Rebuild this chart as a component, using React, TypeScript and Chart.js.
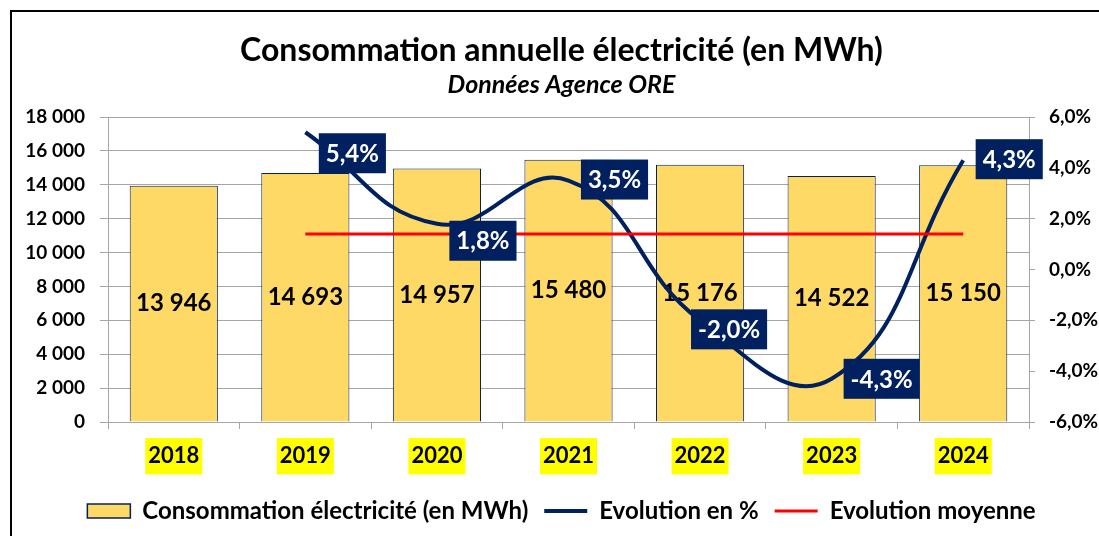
import React, { useEffect, useRef } from 'react';
import { Chart, registerables } from 'chart.js';

Chart.register(...registerables);

// ---- Data ----
const years = ['2018', '2019', '2020', '2021', '2022', '2023', '2024'];
const consumption = [13946, 14693, 14957, 15480, 15176, 14522, 15150];
const evolution: (number | null)[] = [null, 5.4, 1.8, 3.5, -2.0, -4.3, 4.3];
const averageEvolution: (number | null)[] = [null, 1.4, 1.4, 1.4, 1.4, 1.4, 1.4];
const leftAxis = { min: 0, max: 18000, step: 2000 };
const rightAxis = { min: -6, max: 6, step: 2 };
const titleText = 'Consommation annuelle électricité (en MWh)';
const subtitleText = 'Données Agence ORE';
const seriesNames = ['Consommation électricité (en MWh)', 'Evolution en %', 'Evolution moyenne'];

// ---- Styles ----
const FONT = 'Lato';
const NAVY = '#002060';
const BAR_FILL = '#FFD966';
const RED = '#FF0000';
const GRID = '#A6A6A6';
// label box offsets relative to their point (styling only)
const labelDx = [0, 47, 46, 46, 29, 50, 46];
const labelDy = [0, 21, 17, -1, 9, 0, -1];

const fmtThousands = (v: number) => String(Math.round(v)).replace(/\B(?=(\d{3})+(?!\d))/g, ' ');
const fmtPct = (v: number) => v.toFixed(1).replace('.', ',') + '%';

const barLabels = {
  id: 'barLabels',
  afterDatasetDraw(chart: any, args: any) {
    if (args.meta.type !== 'bar') return;
    const ctx = chart.ctx;
    ctx.save();
    ctx.font = `bold 24px ${FONT}`;
    ctx.fillStyle = '#000';
    ctx.textAlign = 'center';
    ctx.textBaseline = 'middle';
    args.meta.data.forEach((el: any, i: number) => {
      const p = el.getProps(['x', 'y', 'base'], true);
      ctx.fillText(fmtThousands(consumption[i]), p.x, (p.y + p.base) / 2);
    });
    ctx.restore();
  },
};

const lineLabels = {
  id: 'lineLabels',
  afterDatasetsDraw(chart: any) {
    const meta = chart.getDatasetMeta(1);
    const ctx = chart.ctx;
    ctx.save();
    ctx.font = `bold 24px ${FONT}`;
    ctx.textAlign = 'center';
    ctx.textBaseline = 'middle';
    meta.data.forEach((el: any, i: number) => {
      const v = evolution[i];
      if (v === null || v === undefined) return;
      const text = fmtPct(v);
      const w = ctx.measureText(text).width + 14;
      const h = 40;
      const cx = el.x + labelDx[i];
      const cy = el.y + labelDy[i];
      ctx.fillStyle = NAVY;
      ctx.fillRect(cx - w / 2, cy - h / 2, w, h);
      ctx.fillStyle = '#FFFFFF';
      ctx.fillText(text, cx, cy + 1);
    });
    ctx.restore();
  },
};

export default function App() {
  const ref = useRef<HTMLCanvasElement | null>(null);

  useEffect(() => {
    if (!ref.current) return;
    const chart = new Chart(ref.current, {
      type: 'bar',
      data: {
        labels: years,
        datasets: [
          {
            type: 'bar',
            label: seriesNames[0],
            data: consumption,
            backgroundColor: BAR_FILL,
            borderColor: NAVY,
            borderWidth: 1,
            barPercentage: 0.67,
            categoryPercentage: 1,
            yAxisID: 'y',
            order: 3,
          } as any,
          {
            type: 'line',
            label: seriesNames[1],
            data: evolution,
            borderColor: NAVY,
            backgroundColor: NAVY,
            borderWidth: 4,
            pointRadius: 0,
            tension: 0.45,
            yAxisID: 'y1',
            order: 2,
          } as any,
          {
            type: 'line',
            label: seriesNames[2],
            data: averageEvolution,
            borderColor: RED,
            backgroundColor: RED,
            borderWidth: 3,
            pointRadius: 0,
            tension: 0,
            yAxisID: 'y1',
            order: 1,
          } as any,
        ],
      },
      options: {
        responsive: false,
        animation: false,
        devicePixelRatio: 1,
        layout: { padding: { left: 24, right: 0, top: 0, bottom: 3 } },
        plugins: {
          title: {
            display: true,
            text: titleText,
            color: '#000',
            font: { family: FONT, size: 32, weight: 'bold' },
            padding: { top: 31, bottom: 0 },
          },
          subtitle: {
            display: true,
            text: subtitleText,
            color: '#000',
            font: { family: FONT, size: 25, weight: 'bold', style: 'italic' },
            padding: { top: 1, bottom: 16.6 },
          },
          legend: {
            display: true,
            position: 'bottom',
            labels: {
              usePointStyle: true,
              pointStyleWidth: 43,
              boxHeight: 14,
              padding: 16,
              color: '#000',
              font: { family: FONT, size: 24, weight: 'bold' },
              generateLabels: (c: any) =>
                c.data.datasets.map((ds: any, i: number) => ({
                  text: ds.label,
                  fillStyle: ds.backgroundColor,
                  strokeStyle: ds.borderColor,
                  lineWidth: i === 0 ? 1.5 : ds.borderWidth,
                  pointStyle: i === 0 ? 'rect' : 'line',
                  hidden: false,
                  datasetIndex: i,
                  fontColor: '#000',
                })),
            },
          },
          tooltip: { enabled: false },
        },
        scales: {
          x: {
            offset: true,
            grid: { display: true, drawOnChartArea: false, offset: true, tickLength: 7, color: GRID },
            border: { display: true, color: GRID },
            ticks: {
              color: '#000',
              font: { family: FONT, size: 22, weight: 'bold' },
              padding: 14,
              showLabelBackdrop: true,
              backdropColor: '#FFFF00',
              backdropPadding: { top: 5, bottom: 5, left: 3, right: 3 },
            },
            afterFit: (s: any) => {
              s.height = 61;
            },
          } as any,
          y: {
            position: 'left',
            min: leftAxis.min,
            max: leftAxis.max,
            grid: { color: GRID, tickLength: 8 },
            border: { display: true, color: GRID },
            ticks: {
              stepSize: leftAxis.step,
              color: '#000',
              font: { family: FONT, size: 19, weight: 'bold' },
              padding: 15,
              callback: (v: any) => fmtThousands(Number(v)),
            },
            afterFit: (s: any) => {
              s.width = 84;
            },
          } as any,
          y1: {
            position: 'right',
            min: rightAxis.min,
            max: rightAxis.max,
            grid: { drawOnChartArea: false, color: GRID, tickLength: 6 },
            border: { display: true, color: GRID },
            ticks: {
              stepSize: rightAxis.step,
              color: '#000',
              font: { family: FONT, size: 19, weight: 'bold' },
              padding: 14,
              callback: (v: any) => fmtPct(Number(v)),
            },
            afterFit: (s: any) => {
              s.width = 70;
            },
          } as any,
        },
      } as any,
      plugins: [barLabels, lineLabels],
    });
    return () => chart.destroy();
  }, []);

  return (
    <div
      style={{
        position: 'fixed',
        left: 0,
        top: 0,
        width: 1099,
        height: 536,
        overflow: 'hidden',
        background: '#FFFFFF',
      }}
    >
      <div
        style={{
          position: 'absolute',
          left: 10,
          top: 10,
          width: 1300,
          height: 700,
          border: '2px solid #000',
          boxSizing: 'border-box',
        }}
      />
      <canvas
        ref={ref}
        width={1099}
        height={536}
        style={{ position: 'absolute', left: 0, top: 0, width: 1099, height: 536 }}
      />
    </div>
  );
}
